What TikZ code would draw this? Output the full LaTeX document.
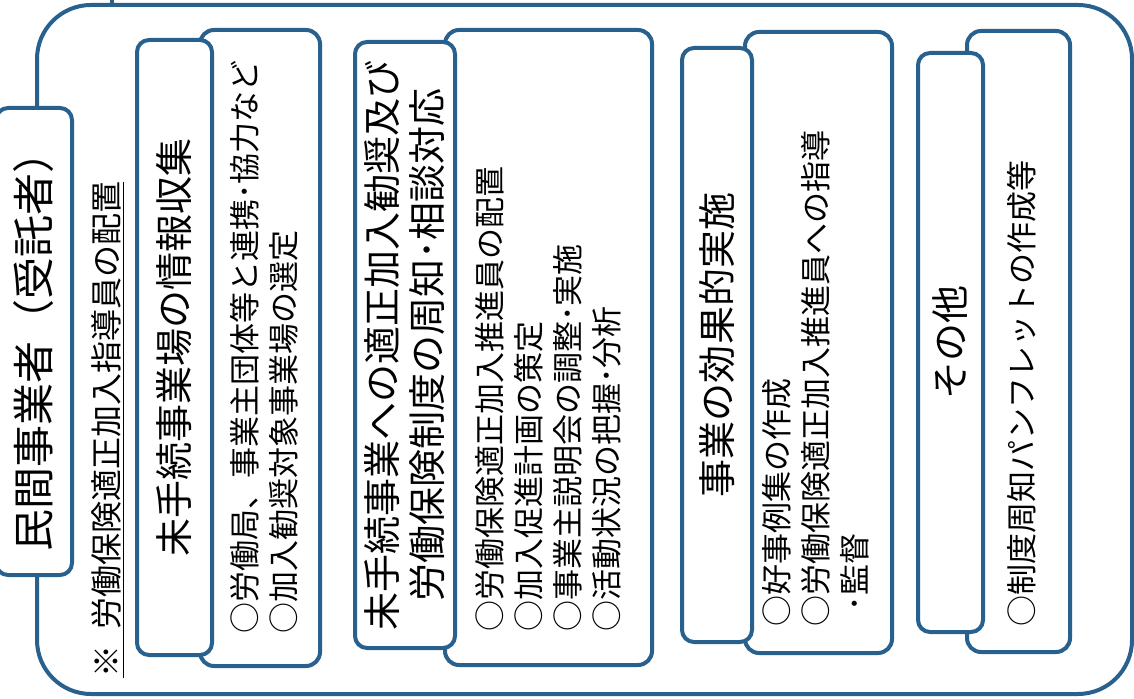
\documentclass[tikz,border=0pt]{standalone}
\usepackage{fontspec}
\newfontfamily\jpfont{Noto Sans CJK JP}
\usetikzlibrary{calc, positioning}
\definecolor{frameblue}{RGB}{40,96,142}

\begin{document}
\begin{tikzpicture}[
        x=0.5pt, y=-0.5pt,
        frame/.style={draw=frameblue, line width=2pt, fill=white, inner sep=0pt},
        outerbox/.style={frame, rounded corners=27pt},
        tabbox/.style={frame, rounded corners=6pt, rotate=90, font=\jpfont\fontsize{21pt}{24pt}\selectfont},
        subbox/.style={frame, rounded corners=7pt},
        labelbox/.style={frame, rounded corners=6pt, rotate=90, align=center, font=\jpfont\fontsize{19pt}{22.5pt}\selectfont},
        items/.style={rotate=90, anchor=west, inner sep=0pt, align=left, font=\jpfont\fontsize{15.5pt}{19.5pt}\selectfont},
        note/.style={rotate=90, anchor=west, inner sep=0pt, font=\jpfont\fontsize{16pt}{18pt}\selectfont}
    ]
    \useasboundingbox (0,0) rectangle (1134,699);

    \node[outerbox, minimum width=547.5pt, minimum height=344.5pt] (outer) at (584.5,349.5) {};

    % feed line from above
    \coordinate (feed) at (112,0);
    \draw[frameblue, line width=2pt] (feed) -- (feed |- outer.north);

    \node[tabbox, minimum width=233.5pt, minimum height=38pt] (tab) at (34,341.5) {民間事業者（受託者）};

    \node[note] (staff) at (108,678) {\underline{※\hspace{0.5em}労働保険適正加入指導員の配置}};

    % content boxes
    \node[subbox, minimum width=60pt, minimum height=318pt] (sub1) at (260,348) {};
    \node[subbox, minimum width=103.5pt, minimum height=317.5pt] (sub2) at (548.5,347.5) {};
    \node[subbox, minimum width=73.5pt, minimum height=310.5pt] (sub3) at (818.5,342.5) {};
    \node[subbox, minimum width=51.5pt, minimum height=310.5pt] (sub4) at (1018.5,341.5) {};

    % headings
    \node[labelbox, minimum width=307.5pt, minimum height=37.5pt] (lab1) at (174.5,347.5) {未手続事業場の情報収集};
    \node[labelbox, minimum width=303pt, minimum height=50pt] (lab2) at (405,345) {未手続事業への適正加入勧奨及び\\労働保険制度の周知･相談対応};
    \node[labelbox, minimum width=297pt, minimum height=35pt] (lab3) at (717,345) {事業の効果的実施};
    \node[labelbox, minimum width=289.5pt, minimum height=32.5pt] (lab4) at (950.5,342.5) {その他};

    % items
    \node[items] (items1) at ($(sub1.south)+(4,-34)$) {○労働局、事業主団体等と連携･協力など\\○加入勧奨対象事業場の選定};
    \node[items] (items2) at ($(sub2.south)+(0,-35)$) {○労働保険適正加入推進員の配置\\○加入促進計画の策定\\○事業主説明会の調整･実施\\○活動状況の把握･分析};
    \node[items] (items3) at ($(sub3.south)+(-3,-28)$) {○好事例集の作成\\○労働保険適正加入推進員への指導\\\hspace*{0.5em}･監督};
    \node[items] (items4) at ($(sub4.south)+(3,-27)$) {○制度周知パンフレットの作成等};

\end{tikzpicture}
\end{document}
